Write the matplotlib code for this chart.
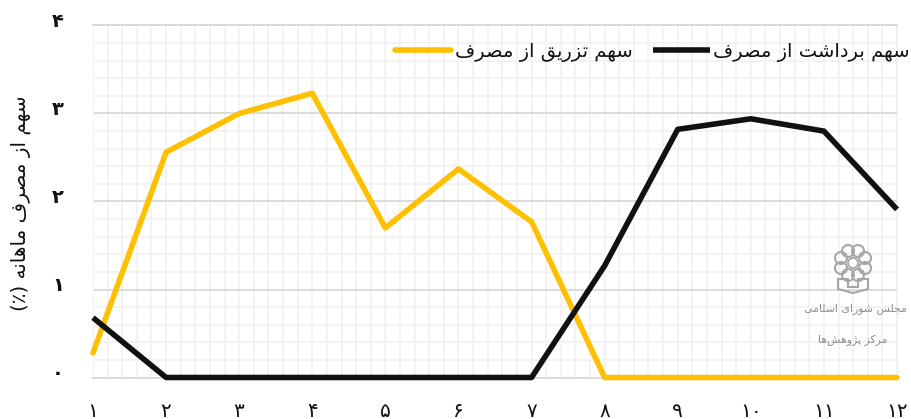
import unicodedata
import numpy as np
import matplotlib
matplotlib.use('Agg')
import matplotlib.pyplot as plt
from matplotlib.patches import Circle, Polygon
from matplotlib.transforms import ScaledTranslation
from matplotlib.ticker import MultipleLocator

months = ['۱', '۲', '۳', '۴', '۵', '۶', '۷', '۸', '۹', '۱۰', '۱۱', '۱۲']
month_pos = [1, 2, 3, 4, 5, 6, 7, 8, 9, 10, 11, 12]
inject_share = [0.28, 2.56, 3.00, 3.23, 1.70, 2.37, 1.77, 0, 0, 0, 0, 0]
withdraw_share = [0.68, 0, 0, 0, 0, 0, 0, 1.27, 2.82, 2.94, 2.80, 1.91]
y_ticks = [0, 1, 2, 3, 4]
y_labels = ['۰', '۱', '۲', '۳', '۴']

inject_label = 'سهم تزریق از مصرف'
withdraw_label = 'سهم برداشت از مصرف'
y_title = 'سهم از مصرف ماهانه (٪)'
logo_top = 'مجلس شورای اسلامی'
logo_bottom = 'مرکز پژوهش‌ها'

# matplotlib does no arabic shaping, so pick the presentation forms by hand
names = {'ا': 'ALEF', 'ب': 'BEH', 'پ': 'PEH', 'ت': 'TEH', 'ج': 'JEEM', 'د': 'DAL', 'ر': 'REH',
         'ز': 'ZAIN', 'ژ': 'JEH', 'س': 'SEEN', 'ش': 'SHEEN', 'ص': 'SAD', 'ف': 'FEH', 'ق': 'QAF',
         'ک': 'KEHEH', 'ل': 'LAM', 'م': 'MEEM', 'ن': 'NOON', 'و': 'WAW', 'ه': 'HEH', 'ی': 'FARSI YEH'}
no_left_join = 'ادرزژو'


def form(ch, kind):
    try:
        return unicodedata.lookup(f'ARABIC LETTER {names[ch]} {kind} FORM')
    except KeyError:
        return ch


def shape(text):
    out = []
    for i, ch in enumerate(text):
        if ch not in names:
            out.append({'(': ')', ')': '('}.get(ch, ch))
            continue
        prev = text[i - 1] if i > 0 else ' '
        nxt = text[i + 1] if i < len(text) - 1 else ' '
        joins_prev = prev in names and prev not in no_left_join
        joins_next = nxt in names and ch not in no_left_join
        if joins_prev and joins_next:
            kind = 'MEDIAL'
        elif joins_prev:
            kind = 'FINAL'
        elif joins_next:
            kind = 'INITIAL'
        else:
            kind = 'ISOLATED'
        out.append(form(ch, kind))
    return ''.join(out[::-1]).replace('\u200c', '')


plt.rcParams['font.family'] = ['DejaVu Sans']

fig = plt.figure(figsize=(9.12, 4.19), dpi=100)
ax = fig.add_axes([93 / 912, 1 - 377.5 / 419, 804 / 912, 352 / 419])

ax.plot(month_pos, inject_share, color='#ffc000', lw=4, solid_capstyle='round',
        solid_joinstyle='round', clip_on=False, zorder=3, label=shape(inject_label))
ax.plot(month_pos, withdraw_share, color='#111111', lw=4, solid_capstyle='butt',
        solid_joinstyle='round', clip_on=False, zorder=4, label=shape(withdraw_label))

ax.set_xlim(1, 12)
ax.set_ylim(0, 4)
ax.xaxis.set_minor_locator(MultipleLocator(0.2))
ax.yaxis.set_minor_locator(MultipleLocator(0.2))
ax.set_xticks(month_pos, months)
ax.set_yticks(y_ticks, y_labels)
ax.grid(which='minor', color='#f2f2f2', lw=1.3)
ax.grid(which='major', axis='x', color='#f2f2f2', lw=1.3)
ax.grid(which='major', axis='y', color='#d9d9d9', lw=1.3)
ax.set_axisbelow(True)
ax.tick_params(which='both', length=0)
ax.tick_params(axis='x', pad=17.5, labelsize=14.5, labelcolor='#111111')
ax.tick_params(axis='y', pad=21, labelsize=14, labelcolor='#111111')
# y labels sit a little above their gridlines in the original
lift = ScaledTranslation(0, 6 / 100, fig.dpi_scale_trans)
for lab in ax.get_yticklabels():
    lab.set_transform(lab.get_transform() + lift)
    lab.set_fontweight('bold')
for s in ['left', 'right']:
    ax.spines[s].set_color('#f2f2f2')
for s in ['top', 'bottom']:
    ax.spines[s].set_color('#d9d9d9')
    ax.spines[s].set_linewidth(1.3)

fig.text(21 / 912, 1 - 203 / 419, shape(y_title), rotation=90, ha='center', va='center',
         fontsize=14.3, color='#111111')

ax.legend(ncols=2, frameon=False, fontsize=14, loc='upper right', bbox_to_anchor=(1.038, 1.003),
          handlelength=2.9, handletextpad=0.2, columnspacing=1.05, labelcolor='#111111')

# watermark logo, drawn in figure pixels
grey = '#a6a6a6'
logo = fig.add_axes([0, 0, 1, 1], facecolor='none')
logo.set_xlim(0, 912)
logo.set_ylim(419, 0)
logo.axis('off')
cx, cy = 853, 263
for ang in np.arange(0, 360, 45) + 22.5:
    logo.add_patch(Circle((cx + 13 * np.cos(np.radians(ang)), cy + 13 * np.sin(np.radians(ang))), 6,
                          fill=False, ec=grey, lw=1.5))
logo.add_patch(Circle((cx, cy), 5, fc='white', ec=grey, lw=1.3))
logo.add_patch(Polygon([(838, 279), (848, 279), (848, 287), (858, 287), (858, 279), (868, 279),
                        (868, 289), (853, 293), (838, 289)], fc='none', ec=grey, lw=1.5))
logo.text(855, 309, shape(logo_top), color='#8c8c8c', fontsize=7.8, ha='center', va='center')
logo.text(853, 340, shape(logo_bottom), color='#8c8c8c', fontsize=7.8, ha='center', va='center')

fig.savefig('out.png', dpi=100)
